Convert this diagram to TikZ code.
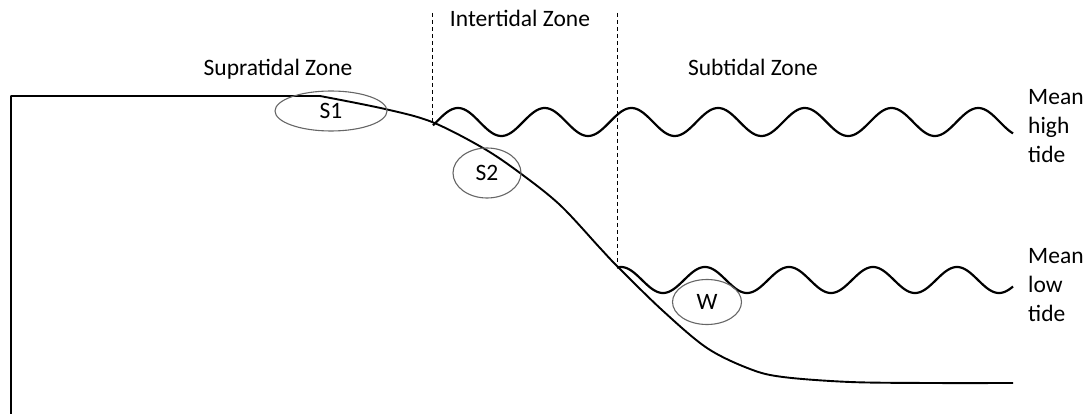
\documentclass[tikz,border=0pt]{standalone}
\usepackage{fontspec}
\setmainfont{Carlito}
\usetikzlibrary{shapes.geometric}
\begin{document}
\begin{tikzpicture}[x=1pt,y=-1pt,
  lbl/.style={font=\fontsize{23.5}{29}\selectfont, inner sep=0pt},
  zonebox/.style={draw=black!60, line width=1.1pt, ellipse, inner sep=0pt, font=\fontsize{23.5}{29}\selectfont},
  ground/.style={line width=1.9pt, line join=round},
  wave/.style={line width=2.2pt},
  divider/.style={dashed, line width=0.9pt, dash pattern=on 4pt off 3pt}]
\useasboundingbox (0,0) rectangle (1092,414);
% ground profile
\draw[ground] (11,414) -- (11,96) -- (320,96)
  -- plot[smooth, tension=0.55] coordinates {(320,96) (385,109) (432,122) (483,148) (520,173) (560,205) (600,248) (617,266) (662,310) (707,348) (750,369) (783,377) (850,382) (930,383) (1013,383)};
% dividers
\coordinate (d1t) at (432,13); \coordinate (d1b) at (432,122);
\coordinate (d2t) at (617,13); \coordinate (d2b) at (617,265);
\draw[divider] (d1t) -- (d1b);
\draw[divider] (d2t) -- (d2b);
% waves
\draw[wave] plot[domain=433:1013, samples=300, smooth] (\x, {122 - 14*cos(4.1522*(\x-458))});
\draw[wave] plot[domain=617:1013, samples=300, smooth] (\x, {280 - 13*cos(4.2857*(\x-705))});
% ellipses
\node[zonebox, minimum width=112pt, minimum height=40pt] (s1) at (331,111) {S1};
\node[zonebox, minimum width=68pt, minimum height=50pt] (s2) at (487,173) {S2};
\node[zonebox, minimum width=69pt, minimum height=45pt] (w) at (707,302) {W};
% zone labels
\node[lbl, anchor=base] (sup) at (278,76) {Supratidal Zone};
\node[lbl, anchor=base] (int) at (520,27) {Intertidal Zone};
\node[lbl, anchor=base] (sub) at (753,76) {Subtidal Zone};
% tide labels (base anchor = baseline of last line)
\node[lbl, anchor=base west, align=left] (mht) at (1028,163) {Mean\\high\\tide};
\node[lbl, anchor=base west, align=left] (mlt) at (1028,321) {Mean\\low\\tide};
\end{tikzpicture}
\end{document}
